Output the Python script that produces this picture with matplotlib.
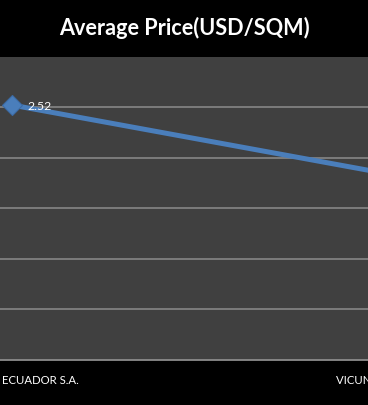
import matplotlib
matplotlib.use("Agg")
import matplotlib.pyplot as plt

categories = ["ECUADOR S.A.", "VICUNHA ECUADOR S.A."]
values = [2.52, 1.82]
value_labels = ["2.52", ""]
yticks = [0.5, 1.0, 1.5, 2.0, 2.5]
title = "Average Price(USD/SQM)"

W, H, DPI = 368, 405, 100
fig = plt.figure(figsize=(W / DPI, H / DPI), dpi=DPI, facecolor="black")

top_px, bottom_px = 56.5, 360
ax = fig.add_axes([0, 1 - bottom_px / H, 1, (bottom_px - top_px) / H])
ax.set_facecolor("#404040")

x = list(range(len(categories)))
ax.plot(x, values, color="#4A7EBB", lw=3.6, marker="D", ms=10,
        mfc="#4A7EBB", mec="#3C6BA5", mew=0.8, solid_capstyle="butt", zorder=3)

# x range: category 0 at 12px, category 1 at 399px
px_per_unit = 387
xmin = -12 / px_per_unit
ax.set_xlim(xmin, xmin + W / px_per_unit)
ax.set_ylim(0, 3.0)

ax.set_yticks(yticks)
ax.yaxis.grid(True, color="#8C8C8C", lw=1.1)
ax.set_axisbelow(True)
ax.tick_params(left=False, bottom=False, labelleft=False, labelbottom=False)
for s in ["left", "right", "top"]:
    ax.spines[s].set_visible(False)
ax.spines["bottom"].set_color("#8C8C8C")
ax.spines["bottom"].set_linewidth(1.3)

font = "Lato"
# category labels
offsets = [-10, -63]
for xi, lab, off in zip(x, categories, offsets):
    ax.annotate(lab, xy=(xi, 0), xycoords=("data", "axes fraction"),
                xytext=(off * 0.72, -21 * 0.72), textcoords="offset points",
                ha="left", va="center", color="white", fontsize=8.2,
                family=font, annotation_clip=False)

# data labels
for xi, v, lab in zip(x, values, value_labels):
    if lab:
        ax.annotate(lab, xy=(xi, v), xytext=(15 * 0.72, -1 * 0.72),
                    textcoords="offset points", ha="left", va="center",
                    color="white", fontsize=8.8, family=font)

fig.text(184 / W, 1 - 28 / H, title, ha="center", va="center", color="white",
         fontsize=15.6, fontweight="bold", family=font)

fig.savefig("out.png", dpi=DPI, facecolor="black")
